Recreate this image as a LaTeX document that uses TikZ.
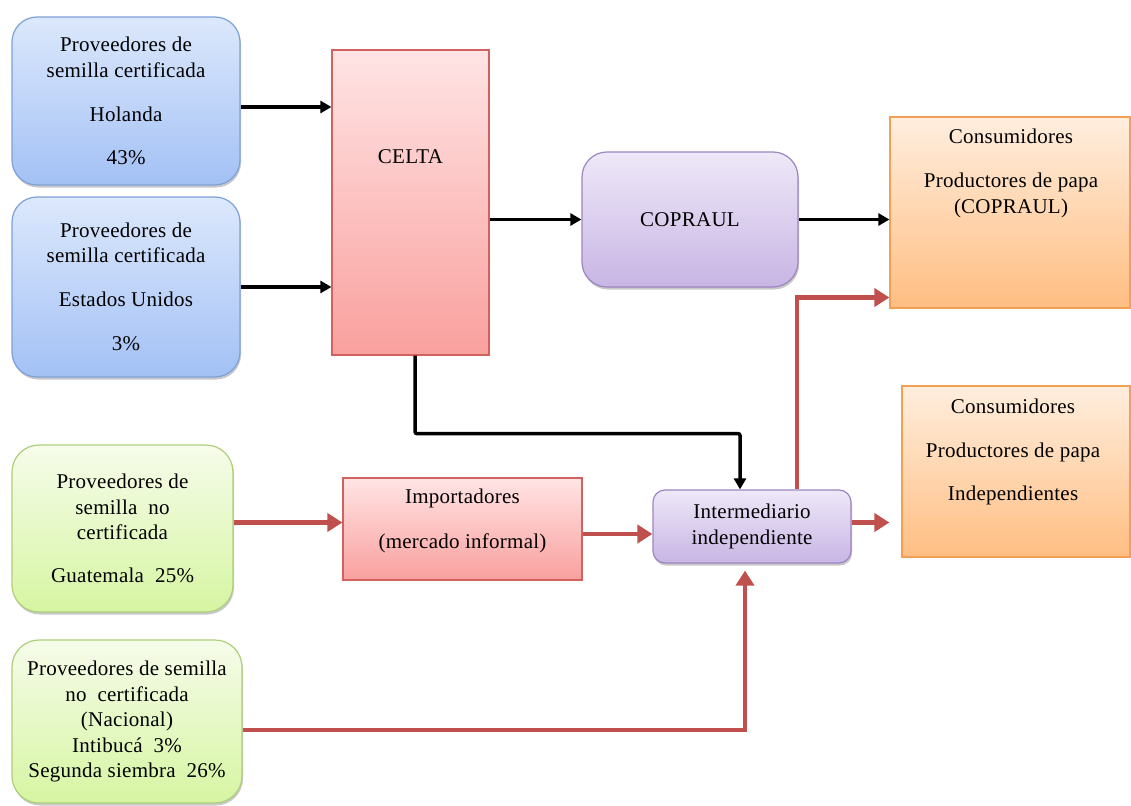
\documentclass[tikz,border=0pt]{standalone}
\usepackage{fontspec}
\setmainfont{Liberation Serif}[LetterSpace=1.2]
\usetikzlibrary{arrows.meta,shadows}
\definecolor{bluetop}{HTML}{DCE8FC}
\definecolor{bluebot}{HTML}{A3C1F5}
\definecolor{blueline}{HTML}{7DA1D6}
\definecolor{redtop}{HTML}{FFE4E4}
\definecolor{redbot}{HTML}{F9A09E}
\definecolor{redline}{HTML}{D2625E}
\definecolor{purtop}{HTML}{EEE8F8}
\definecolor{purbot}{HTML}{C8B5E4}
\definecolor{purline}{HTML}{9C86C2}
\definecolor{ortop}{HTML}{FFEEDE}
\definecolor{orbot}{HTML}{FFBE82}
\definecolor{orline}{HTML}{F3A055}
\definecolor{grtop}{HTML}{F6FCEA}
\definecolor{grbot}{HTML}{D6F5A2}
\definecolor{grline}{HTML}{AECF7A}
\definecolor{arrred}{HTML}{C0504D}
\begin{document}
\begin{tikzpicture}[x=1pt,y=-1pt,
  txt/.style={font=\fontsize{21}{25.5}\selectfont, align=center, inner sep=0pt},
  box/.style={txt, line width=1.2pt, shading angle=0},
  shad/.style={drop shadow={shadow xshift=1pt,shadow yshift=-2.5pt,opacity=0.3,fill=black!70}},
  bluebox/.style={box, shad, rounded corners=25pt, top color=bluetop, bottom color=bluebot, draw=blueline},
  greenbox/.style={box, shad, rounded corners=27pt, top color=grtop, bottom color=grbot, draw=grline},
  redbox/.style={box, top color=redtop, bottom color=redbot, draw=redline},
  purbox/.style={box, shad, top color=purtop, bottom color=purbot, draw=purline},
  orbox/.style={box, top color=ortop, bottom color=orbot, draw=orline},
  blk/.style={line width=3.5pt, -{Triangle[length=11pt,width=12pt]}},
  rd/.style={draw=arrred, line width=4.5pt, -{Triangle[length=15pt,width=18pt]}, color=arrred},
]
\clip (0,0) rectangle (1131,805);
\useasboundingbox (0,0) rectangle (1131,805);
\fill[white] (0,0) rectangle (1131,805);

% boxes
\node[bluebox, minimum width=228pt, minimum height=168pt] (hol) at (126,101)
  {Proveedores de\\semilla certificada\\[18.5pt]Holanda\\[17.5pt]43\%};
\node[bluebox, minimum width=228pt, minimum height=180pt] (usa) at (126,287)
  {Proveedores de\\semilla certificada\\[18.5pt]Estados Unidos\\[18.5pt]3\%};
\node[redbox, minimum width=157pt, minimum height=305pt] (celta) at (410.5,202.5) {};
\node[txt] (celtatxt) at (410.5,157) {CELTA};
\node[purbox, rounded corners=25pt, minimum width=216pt, minimum height=135pt] (copraul) at (690,219.5) {COPRAUL};
\node[orbox, minimum width=240pt, minimum height=191pt] (cons1) at (1010,212.5) {};
\node[txt] (cons1txt) at (1011,173) {Consumidores\\[19pt]Productores de papa\\(COPRAUL)};
\node[orbox, minimum width=228pt, minimum height=171pt] (cons2) at (1016,471.5) {};
\node[txt] (cons2txt) at (1013,452) {Consumidores\\[18.5pt]Productores de papa\\[17.5pt]Independientes};
\node[greenbox, minimum width=221pt, minimum height=167pt] (gua) at (122.5,528.5)
  {Proveedores de\\semilla\ \ no\\certificada\\[17.5pt]Guatemala\ \ 25\%};
\node[greenbox, minimum width=230pt, minimum height=163pt] (nac) at (127,721.5)
  {Proveedores de semilla\\no\ \ certificada\\(Nacional)\\Intibucá\ \ 3\%\\Segunda siembra\ \ 26\%};
\node[redbox, minimum width=239pt, minimum height=102pt] (imp) at (462.5,529) {};
\node[txt] (imptxt) at (462.5,520.5) {Importadores\\[19.5pt](mercado informal)};
\node[purbox, rounded corners=12pt, minimum width=198pt, minimum height=73pt] (inter) at (752,526.5)
  {Intermediario\\independiente};

% black connectors
\draw[blk] ([yshift=-6pt]hol.east) -- ([yshift=-6pt]hol.east -| celta.west);
\draw[blk] (usa.east) -- (usa.east -| celta.west);
\draw[blk] (copraul.west -| celta.east) -- (copraul.west);
\draw[blk] (copraul.east) -- (copraul.east -| cons1.west);
\draw[blk, rounded corners=2pt] ([xshift=4.5pt]celta.south) -- ++(0,78) -| ([xshift=-12pt]inter.north);

% red connectors
\coordinate (tip2) at ([xshift=-12pt,yshift=4pt]cons2.west |- inter.east);
\draw[rd] ([yshift=6pt]gua.east) -- ([yshift=6pt]gua.east -| imp.west);
\draw[rd] ([yshift=-5pt]imp.east) -- ([yshift=-5pt]imp.east -| inter.west);
\draw[rd] ([yshift=-8.5pt]nac.east) -| ([xshift=-7pt,yshift=-7pt]inter.south);
\draw[rd] ([xshift=45pt]inter.north) |- ([yshift=-85pt]cons1.west);
\draw[rd] ([yshift=4pt]inter.east) -- (tip2);
\end{tikzpicture}
\end{document}
